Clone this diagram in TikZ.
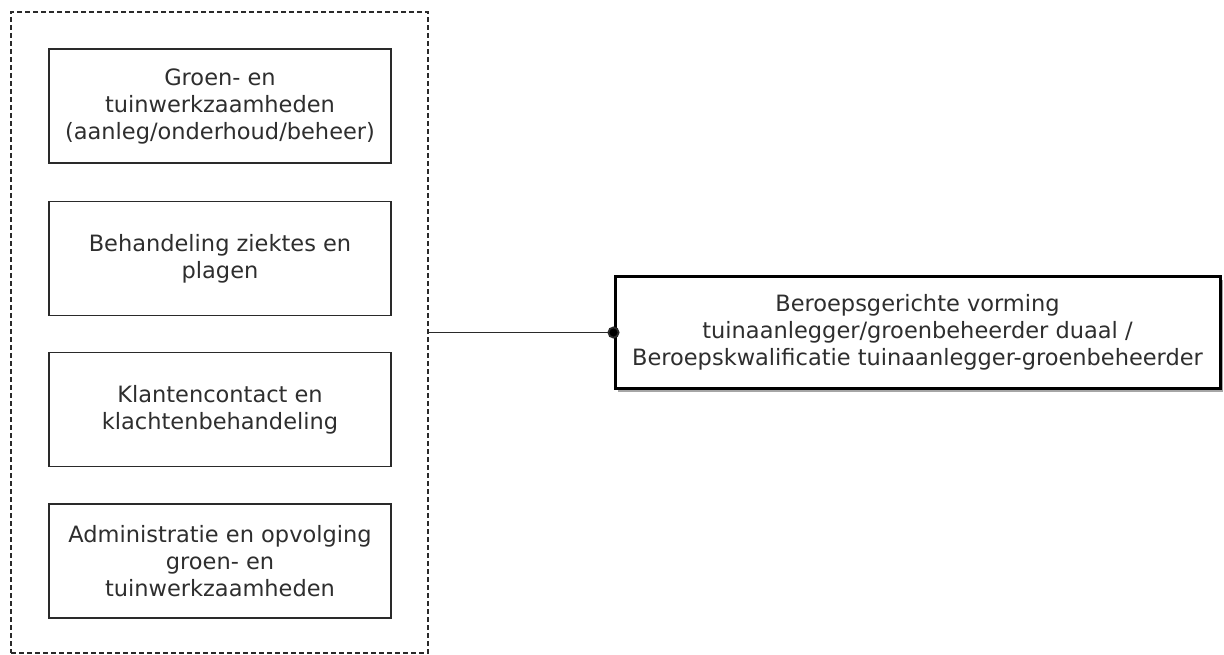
\documentclass[tikz,border=0pt]{standalone}
\usepackage{fontspec}
\setmainfont{DejaVu Sans}
\usetikzlibrary{arrows.meta,shadows}
\definecolor{txt}{HTML}{2E2E2E}
\definecolor{ln}{HTML}{2A2A2A}
\tikzset{
  dia/.style={font=\fontsize{22.5}{27}\selectfont, text=txt},
  inbox/.style={dia, draw=ln, line width=1.8pt, minimum width=342pt, minimum height=114pt, align=center, inner sep=0pt},
  outbox/.style={dia, draw=black, line width=3pt, fill=white, minimum width=605pt, minimum height=112pt, align=center, inner sep=0pt,
     drop shadow={shadow xshift=3pt, shadow yshift=-3.5pt, fill=gray!70, opacity=1}},
  group/.style={draw=ln, line width=1.6pt, dash pattern=on 5pt off 3pt, minimum width=417pt, minimum height=641pt, inner sep=0pt},
  conn/.style={draw=ln, line width=1.8pt, -{Circle[length=12pt,width=12pt,fill=black]}}
}
\begin{document}
\begin{tikzpicture}[x=1pt,y=-1pt]
\useasboundingbox (0,0) rectangle (1224,655);
\node[group] (g) at (219.5,332.5) {};
\node[inbox] (b1) at (220,106) {Groen- en\\tuinwerkzaamheden\\(aanleg/onderhoud/beheer)};
\node[inbox] (b2) at (220,258.5) {Behandeling ziektes en\\plagen};
\node[inbox] (b3) at (220,409.5) {Klantencontact en\\klachtenbehandeling};
\node[inbox] (b4) at (220,561) {Administratie en opvolging\\groen- en\\tuinwerkzaamheden};
\node[outbox] (r) at (917.5,332.5) {Beroepsgerichte vorming\\tuinaanlegger/groenbeheerder duaal /\\Beroepskwalificatie tuinaanlegger-groenbeheerder};
\draw[conn] (g.east) -- ([xshift=6pt]r.west);
\end{tikzpicture}
\end{document}
